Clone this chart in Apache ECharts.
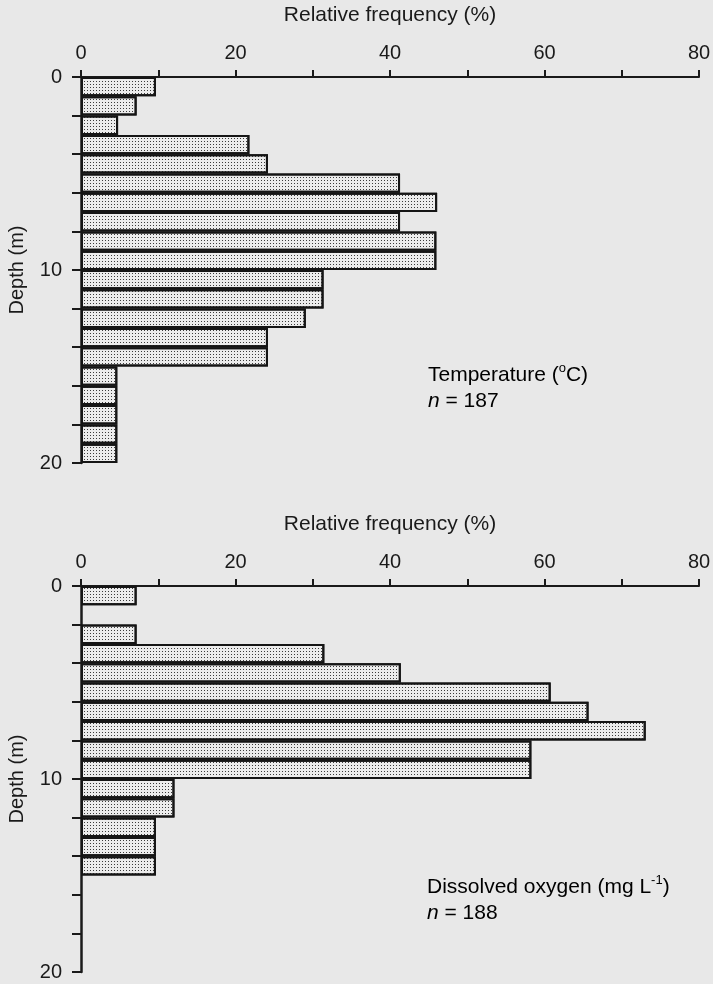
<!DOCTYPE html>
<html>
<head>
<meta charset="utf-8">
<script src="https://cdn.jsdelivr.net/npm/echarts@6/dist/echarts.min.js"></script>
<style>
  html, body { margin: 0; padding: 0; background: #e8e8e8; }
  #chart { width: 713px; height: 984px; }
</style>
</head>
<body>
<div id="chart"></div>
<script>
// 1 m depth bins, 0-20 m
const depthBins = ['0-1', '1-2', '2-3', '3-4', '4-5', '5-6', '6-7', '7-8', '8-9', '9-10',
  '10-11', '11-12', '12-13', '13-14', '14-15', '15-16', '16-17', '17-18', '18-19', '19-20']
const temperatureFreq = [9.7, 7.2, 4.8, 21.8, 24.2, 41.3, 46.1, 41.3, 46.0, 46.0,
  31.4, 31.4, 29.1, 24.2, 24.2, 4.7, 4.7, 4.7, 4.7, 4.7]
const oxygenFreq = [7.2, 0, 7.2, 31.5, 41.4, 60.8, 65.7, 73.1, 58.3, 58.3,
  12.1, 12.1, 9.7, 9.7, 9.7, 0, 0, 0, 0, 0]
const freqLabels = [0, 20, 40, 60, 80]
const depthLabels = [0, 10, 20]

const FONT = "'Liberation Sans', Arial, sans-serif"
const INK = '#1a1a1a'

const chart = echarts.init(document.getElementById('chart'))

function freqAxis(gridIndex) {
  return {
    type: 'value',
    gridIndex,
    position: 'top',
    min: 0,
    max: 80,
    interval: 10,
    name: 'Relative frequency (%)',
    nameLocation: 'middle',
    nameGap: 51,
    nameTextStyle: { fontFamily: FONT, fontSize: 21, color: INK },
    axisLine: { show: true, lineStyle: { color: INK, width: 2 } },
    axisTick: { show: true, inside: false, length: 7, lineStyle: { color: INK, width: 2 } },
    axisLabel: {
      margin: 14,
      fontFamily: FONT,
      fontSize: 20,
      color: INK,
      formatter: v => (freqLabels.includes(v) ? String(v) : '')
    },
    splitLine: { show: false }
  }
}

function depthAxis(gridIndex) {
  return {
    type: 'value',
    gridIndex,
    inverse: true,
    min: 0,
    max: 20,
    interval: 2,
    name: 'Depth (m)',
    nameLocation: 'middle',
    nameGap: 54,
    nameRotate: 90,
    nameTextStyle: { fontFamily: FONT, fontSize: 20, color: INK },
    axisLine: { show: true, lineStyle: { color: INK, width: 2.5 } },
    axisTick: { show: true, inside: false, length: 9, lineStyle: { color: INK, width: 2 } },
    axisLabel: {
      margin: 19,
      fontFamily: FONT,
      fontSize: 20,
      color: INK,
      formatter: v => (depthLabels.includes(v) ? String(v) : '')
    },
    splitLine: { show: false }
  }
}

function binAxis(gridIndex) {
  return {
    type: 'category',
    gridIndex,
    inverse: true,
    data: depthBins,
    show: false
  }
}

function barSeries(values, axisBase) {
  return {
    type: 'bar',
    xAxisIndex: axisBase / 2,
    yAxisIndex: axisBase + 1,
    data: values.map(v => (v === 0 ? '-' : v)),
    barWidth: '100%',
    barCategoryGap: '0%',
    silent: true,
    itemStyle: {
      color: '#ececec',
      borderColor: '#151515',
      borderWidth: 2,
      decal: {
        symbol: 'rect',
        symbolSize: 1,
        dashArrayX: [1, 2],
        dashArrayY: [1, 2],
        color: 'rgba(40,40,40,0.9)'
      }
    }
  }
}

const richText = {
  a: { fontFamily: FONT, fontSize: 21, color: INK, lineHeight: 26 },
  i: { fontFamily: FONT, fontSize: 21, fontStyle: 'italic', color: INK, lineHeight: 26 },
  s: { fontFamily: FONT, fontSize: 13, color: INK, lineHeight: 14, verticalAlign: 'top' }
}

chart.setOption({
  backgroundColor: '#e8e8e8',
  animation: false,
  grid: [
    { left: 81, top: 77, width: 618, height: 386, outerBoundsMode: 'none' },
    { left: 81, top: 586, width: 618, height: 386, outerBoundsMode: 'none' }
  ],
  xAxis: [freqAxis(0), freqAxis(1)],
  yAxis: [depthAxis(0), binAxis(0), depthAxis(1), binAxis(1)],
  series: [
    barSeries(temperatureFreq, 0),
    barSeries(oxygenFreq, 2)
  ],
  graphic: [
    {
      type: 'text',
      left: 428,
      top: 362,
      style: { text: '{a|Temperature (}{s|o}{a|C)}\n{i|n}{a| = 187}', rich: richText }
    },
    {
      type: 'text',
      left: 427,
      top: 874,
      style: { text: '{a|Dissolved oxygen (mg L}{s|-1}{a|)}\n{i|n}{a| = 188}', rich: richText }
    }
  ]
})
</script>
</body>
</html>
